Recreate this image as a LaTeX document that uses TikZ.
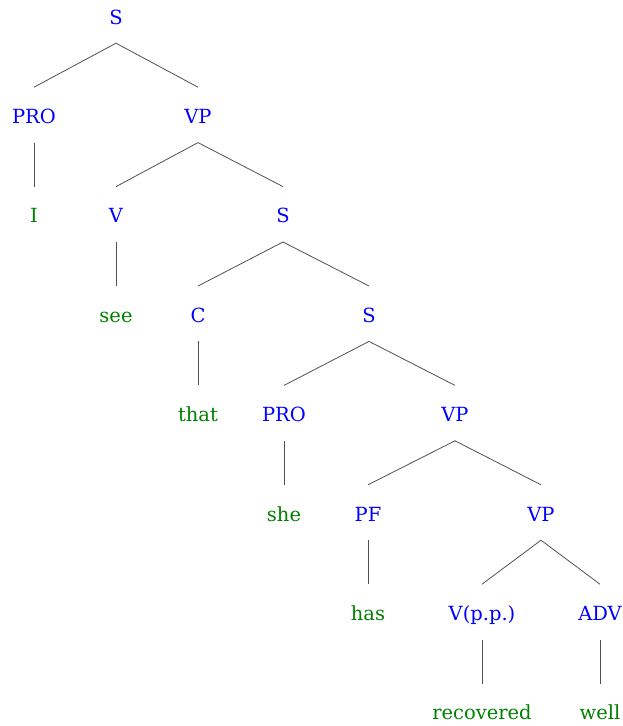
\documentclass[tikz,border=0pt]{standalone}
\usepackage{fontspec}
\setmainfont{DejaVu Serif}
\usepackage{tikz}

\begin{document}
\begin{tikzpicture}[x=1pt,y=-1pt]
\tikzstyle{every node}=[font=\fontsize{19.5}{23}\selectfont, inner sep=0, anchor=base, text height=36pt, text depth=19pt]
\tikzstyle{cat}=[text={rgb,255:red,0;green,0;blue,255}]
\tikzstyle{word}=[text={rgb,255:red,0;green,128;blue,0}]
\tikzstyle{branch}=[draw={rgb,255:red,80;green,80;blue,80}, line width=0.8pt]

\useasboundingbox (0,0) rectangle (622,726);

% categories
\node[cat] (S) at (116,24) {S};
\node[cat] (PRO) at (34,123.4) {PRO};
\node[cat] (VP) at (198,123.4) {VP};
\node[cat] (V) at (116,222.8) {V};
\node[cat] (Sb) at (283,222.8) {S};
\node[cat] (C) at (198,322.2) {C};
\node[cat] (Sc) at (369,322.2) {S};
\node[cat] (PROb) at (284,421.6) {PRO};
\node[cat] (VPb) at (455,421.6) {VP};
\node[cat] (PF) at (368,521) {PF};
\node[cat] (VPc) at (541,521) {VP};
\node[cat] (Vpp) at (482,620.4) {V(p.p.)};
\node[cat] (ADV) at (600,620.4) {ADV};

% words
\node[word] (I) at (34,222.8) {I};
\node[word] (see) at (116,322.2) {see};
\node[word] (that) at (198,421.6) {that};
\node[word] (she) at (284,521) {she};
\node[word] (has) at (368,620.4) {has};
\node[word] (recovered) at (482,719.8) {recovered};
\node[word] (well) at (600,719.8) {well};

\draw[branch] (S.south) -- (PRO.north);
\draw[branch] (S.south) -- (VP.north);
\draw[branch] (PRO.south) -- (I.north);
\draw[branch] (VP.south) -- (V.north);
\draw[branch] (VP.south) -- (Sb.north);
\draw[branch] (V.south) -- (see.north);
\draw[branch] (Sb.south) -- (C.north);
\draw[branch] (Sb.south) -- (Sc.north);
\draw[branch] (C.south) -- (that.north);
\draw[branch] (Sc.south) -- (PROb.north);
\draw[branch] (Sc.south) -- (VPb.north);
\draw[branch] (PROb.south) -- (she.north);
\draw[branch] (VPb.south) -- (PF.north);
\draw[branch] (VPb.south) -- (VPc.north);
\draw[branch] (PF.south) -- (has.north);
\draw[branch] (VPc.south) -- (Vpp.north);
\draw[branch] (VPc.south) -- (ADV.north);
\draw[branch] (Vpp.south) -- (recovered.north);
\draw[branch] (ADV.south) -- (well.north);
\end{tikzpicture}
\end{document}
